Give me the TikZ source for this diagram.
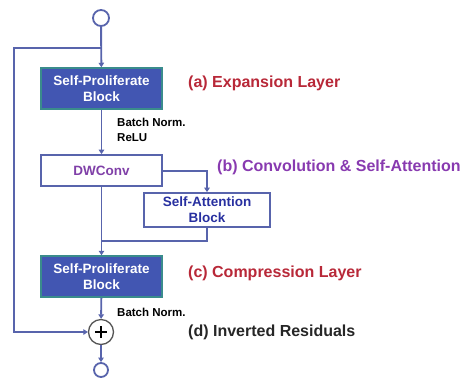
\documentclass[tikz,border=0pt]{standalone}
\usepackage{fontspec}
\setmainfont{Liberation Sans}
\usetikzlibrary{arrows.meta,calc}
\definecolor{wire}{RGB}{88,100,172}
\definecolor{spfill}{RGB}{66,86,178}
\definecolor{spedge}{RGB}{58,140,140}
\definecolor{labred}{RGB}{184,40,56}
\definecolor{labpurple}{RGB}{136,58,176}
\definecolor{dwtext}{RGB}{128,64,168}
\definecolor{satext}{RGB}{40,48,160}
\definecolor{ringgray}{RGB}{85,85,85}
\tikzset{
  wireline/.style={draw=wire, line width=1.9pt},
  flow/.style={wireline, -{Triangle[width=5.5pt,length=4.5pt]}},
  spblock/.style={draw=spedge, fill=spfill, line width=1.5pt, minimum width=121pt,
    minimum height=41pt, inner sep=0pt, align=center, text=white,
    font=\bfseries\fontsize{13.5}{16}\selectfont},
  plainblock/.style={draw=wire, fill=white, line width=1.7pt, inner sep=0pt, align=center,
    font=\bfseries\fontsize{13.5}{16}\selectfont},
  port/.style={circle, draw=wire, line width=1.8pt, fill=white, inner sep=0pt},
  note/.style={anchor=west, inner sep=0pt, align=left,
    font=\bfseries\fontsize{11.5}{15}\selectfont},
  stage/.style={anchor=west, inner sep=0pt, font=\bfseries\fontsize{16}{19}\selectfont},
}
\begin{document}
\begin{tikzpicture}[x=1pt,y=-1pt]
\useasboundingbox (0,0) rectangle (462,381);

% main column
\node[port, minimum size=16pt] (in) at (101,18) {};
\node[spblock] (spb1) at (101.5,88.5) {Self-Proliferate\\Block};
\node[plainblock, minimum width=121pt, minimum height=31pt, text=dwtext] (dw) at (101.5,170.5) {DWConv};
\node[plainblock, minimum width=126pt, minimum height=34pt, text=satext] (sa) at (207,210) {Self-Attention\\Block};
\node[spblock] (spb2) at (101.5,276.5) {Self-Proliferate\\Block};
\node[circle, draw=ringgray, line width=1.3pt, fill=white, minimum size=25pt, inner sep=0pt] (plus) at (101,332) {};
\draw[line width=1.5pt] ($(plus.center)+(-6,0)$) -- ($(plus.center)+(6,0)$);
\draw[line width=1.5pt] ($(plus.center)+(0,-6)$) -- ($(plus.center)+(0,6)$);
\node[port, minimum size=14pt] (out) at (101,370) {};

% side notes
\node[note] (bn1) at (117,129.5) {Batch Norm.\\ReLU};
\node[note] (bn2) at (117,312) {Batch Norm.};

% stage labels
\node[stage, text=labred] (la) at (188,83) {(a) Expansion Layer};
\node[stage, text=labpurple] (lb) at (217,167) {(b) Convolution \& Self-Attention};
\node[stage, text=labred] (lc) at (188,273) {(c) Compression Layer};
\node[stage, text=black!85] (ld) at (188,332) {(d) Inverted Residuals};

% connectors
\coordinate (split) at (101,48);
\coordinate (join) at (101,241);
\draw[flow] (in) -- (spb1);
\draw[flow] (split) -- (14,48) -- (14,332) -- (plus.west);
\draw[flow] (spb1) -- (dw);
\draw[flow] (dw.east |- 0,171) -| (sa.north);
\draw[flow] (dw) -- (spb2);
\draw[wireline] (sa.south) |- (join);
\draw[flow] (spb2) -- (plus);
\draw[flow] (plus) -- (out);
\end{tikzpicture}
\end{document}
